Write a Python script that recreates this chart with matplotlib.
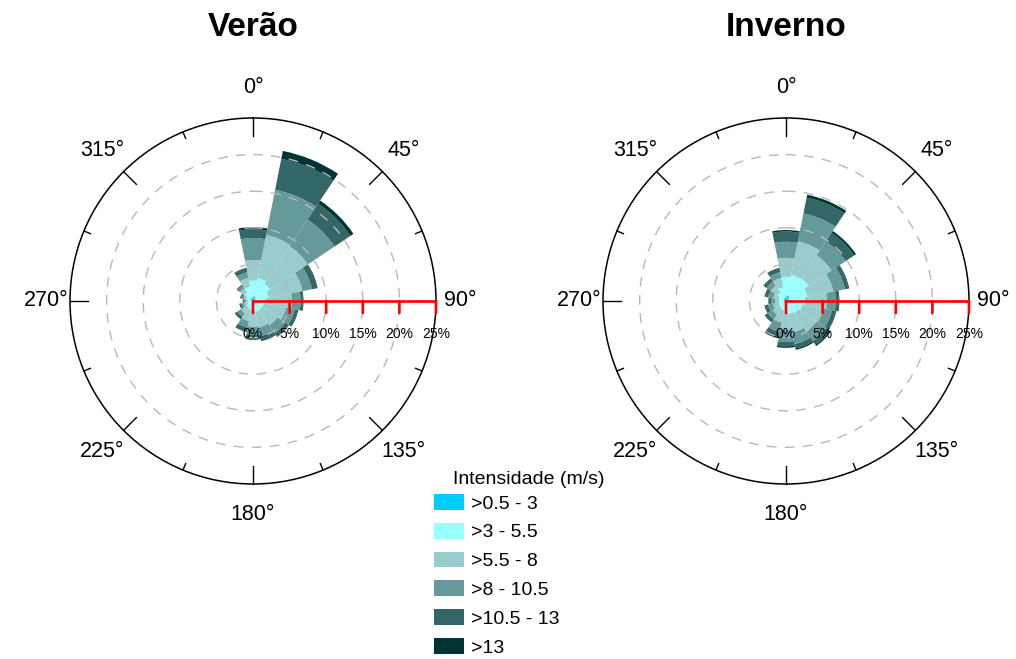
import numpy as np
import matplotlib
matplotlib.use("Agg")
import matplotlib.pyplot as plt
from matplotlib.patches import Patch

plt.rcParams['font.family'] = ['Liberation Sans', 'DejaVu Sans']

# ---------------- data ----------------
directions = [0, 22.5, 45, 67.5, 90, 112.5, 135, 157.5,
              180, 202.5, 225, 247.5, 270, 292.5, 315, 337.5]
speed_labels = [">0.5 - 3", ">3 - 5.5", ">5.5 - 8", ">8 - 10.5", ">10.5 - 13", ">13"]
band_colors = ["#00CCFF", "#99FFFF", "#99CCCC", "#669999", "#336666", "#003333"]

# Verão (% frequency per direction, per speed class)
verao_05_3 = [0.6, 0.7, 0.5, 0.3, 0.2, 0.2, 0.2, 0.2, 0.2, 0.2, 0.2, 0.2, 0.2, 0.3, 0.4, 0.5]
verao_3_55 = [2.2, 2.5, 2.3, 1.9, 1.5, 1.3, 1.3, 1.3, 1.2, 1.0, 0.8, 0.6, 0.5, 0.6, 1.0, 1.5]
verao_55_8 = [2.8, 6.0, 6.2, 4.7, 3.6, 3.1, 2.5, 2.2, 2.1, 1.6, 1.0, 0.5, 0.3, 0.4, 0.7, 1.2]
verao_8_105 = [3.0, 6.3, 4.4, 1.3, 1.2, 1.2, 1.3, 1.2, 1.1, 0.9, 0.6, 0.3, 0.2, 0.3, 0.4, 0.8]
verao_105_13 = [1.2, 4.3, 2.6, 0.7, 0.3, 0.4, 0.5, 0.6, 0.6, 0.5, 0.3, 0.2, 0.15, 0.15, 0.15, 0.5]
verao_13 = [0.3, 1.1, 0.5, 0.1, 0.1, 0.1, 0.1, 0.1, 0.1, 0.1, 0.1, 0.1, 0.05, 0.05, 0.05, 0.1]

# Inverno
inverno_05_3 = [0.6, 0.8, 0.6, 0.4, 0.3, 0.3, 0.3, 0.3, 0.3, 0.3, 0.3, 0.3, 0.3, 0.3, 0.4, 0.5]
inverno_3_55 = [2.7, 2.8, 3.1, 2.6, 2.3, 2.0, 1.7, 1.5, 1.3, 1.0, 0.8, 0.7, 0.6, 0.7, 1.0, 1.4]
inverno_55_8 = [2.6, 4.7, 3.8, 3.6, 3.0, 2.9, 3.0, 2.6, 2.4, 1.7, 1.1, 0.8, 0.6, 0.8, 1.1, 1.3]
inverno_8_105 = [2.2, 3.9, 2.3, 1.6, 1.2, 1.2, 1.6, 1.6, 1.6, 1.3, 0.8, 0.7, 0.5, 0.7, 0.7, 0.8]
inverno_105_13 = [1.4, 2.2, 1.4, 0.5, 0.4, 0.5, 0.6, 0.6, 0.6, 0.7, 0.4, 0.4, 0.3, 0.4, 0.4, 0.5]
inverno_13 = [0.2, 0.4, 0.3, 0.1, 0.1, 0.1, 0.2, 0.2, 0.2, 0.2, 0.1, 0.1, 0.1, 0.1, 0.1, 0.1]

ring_values = [5, 10, 15, 20]
r_max = 25
pct_ticks = [0, 5, 10, 15, 20, 25]
pct_labels = ["0%", "5%", "10%", "15%", "20%", "25%"]
angle_ticks = [0, 45, 90, 135, 180, 225, 270, 315]
angle_labels = ["0°", "45°", "90°", "135°", "180°", "225°", "270°", "315°"]
minor_angle_ticks = [22.5, 67.5, 112.5, 157.5, 202.5, 247.5, 292.5, 337.5]

titles = ["Verão", "Inverno"]
seasons = [
    [verao_05_3, verao_3_55, verao_55_8, verao_8_105, verao_105_13, verao_13],
    [inverno_05_3, inverno_3_55, inverno_55_8, inverno_8_105, inverno_105_13, inverno_13],
]

# ---------------- figure ----------------
W, H = 1016, 659
fig = plt.figure(figsize=(W / 100, H / 100), dpi=100)

centers_px = [(253, 301), (786, 301)]
R_px = 183

theta = np.deg2rad(directions)
width = np.deg2rad(22.5)
major_len = 18 / R_px * r_max
minor_len = 7 / R_px * r_max

for (cx, cy), title, bands in zip(centers_px, titles, seasons):
    ax = fig.add_axes([(cx - R_px) / W, (H - cy - R_px) / H, 2 * R_px / W, 2 * R_px / H],
                      projection='polar')
    ax.set_theta_zero_location('N')
    ax.set_theta_direction(-1)
    ax.set_ylim(0, r_max)
    ax.grid(False)
    ax.set_yticks([])
    ax.set_xticks([])

    bottom = np.zeros(len(directions))
    for vals, col in zip(bands, band_colors):
        ax.bar(theta, vals, width=width, bottom=bottom, color=col,
               edgecolor='none', linewidth=0, align='center', zorder=2)
        bottom = bottom + np.array(vals)

    # dashed rings
    tt = np.linspace(0, 2 * np.pi, 400)
    for rv in ring_values:
        ax.plot(tt, np.full_like(tt, rv), color='#B8B8B8', lw=1.0,
                linestyle=(0, (7, 6)), zorder=3)

    # outer circle & inward ticks
    ax.spines['polar'].set_linewidth(1.1)
    ax.spines['polar'].set_color('black')
    for a in angle_ticks:
        ax.plot([np.deg2rad(a)] * 2, [r_max - major_len, r_max], color='black',
                lw=1.0, zorder=4, clip_on=False)
    for a in minor_angle_ticks:
        ax.plot([np.deg2rad(a)] * 2, [r_max - minor_len, r_max], color='black',
                lw=1.0, zorder=4, clip_on=False)

    # direction labels
    for a, lab in zip(angle_ticks, angle_labels):
        rr = 28.3 if a in (90, 270) else 29.1
        ax.text(np.deg2rad(a), rr, lab, ha='center', va='center', fontsize=15.5,
                clip_on=False)

    # red percentage axis (east)
    ax.plot([np.pi / 2, np.pi / 2], [0, r_max], color='red', lw=1.9, zorder=5,
            solid_capstyle='butt')
    for pv, pl in zip(pct_ticks, pct_labels):
        ax.annotate('', xy=(np.pi / 2, pv), xytext=(0, -12), textcoords='offset pixels',
                    xycoords='data',
                    arrowprops=dict(arrowstyle='-', color='red', lw=1.9,
                                    shrinkA=0, shrinkB=0), zorder=5)
        ax.annotate(pl, xy=(np.pi / 2, pv), xytext=(0, -33), textcoords='offset pixels',
                    ha='center', va='center', fontsize=10, zorder=5)

    fig.text(cx / W, 1 - 28 / H, title, ha='center', va='center',
             fontsize=24, fontweight='bold')

# legend
handles = [Patch(facecolor=c, edgecolor='none') for c in band_colors]
fig.text(453 / W, 1 - 480 / H, "Intensidade (m/s)", ha='left', va='center', fontsize=14)
fig.legend(handles, speed_labels, loc='upper left',
           bbox_to_anchor=(434 / W, 1 - 494 / H), frameon=False, fontsize=14,
           handlelength=1.55, handleheight=0.88, handletextpad=0.35,
           labelspacing=0.52, borderpad=0, borderaxespad=0)

fig.savefig("out.png", dpi=100)
